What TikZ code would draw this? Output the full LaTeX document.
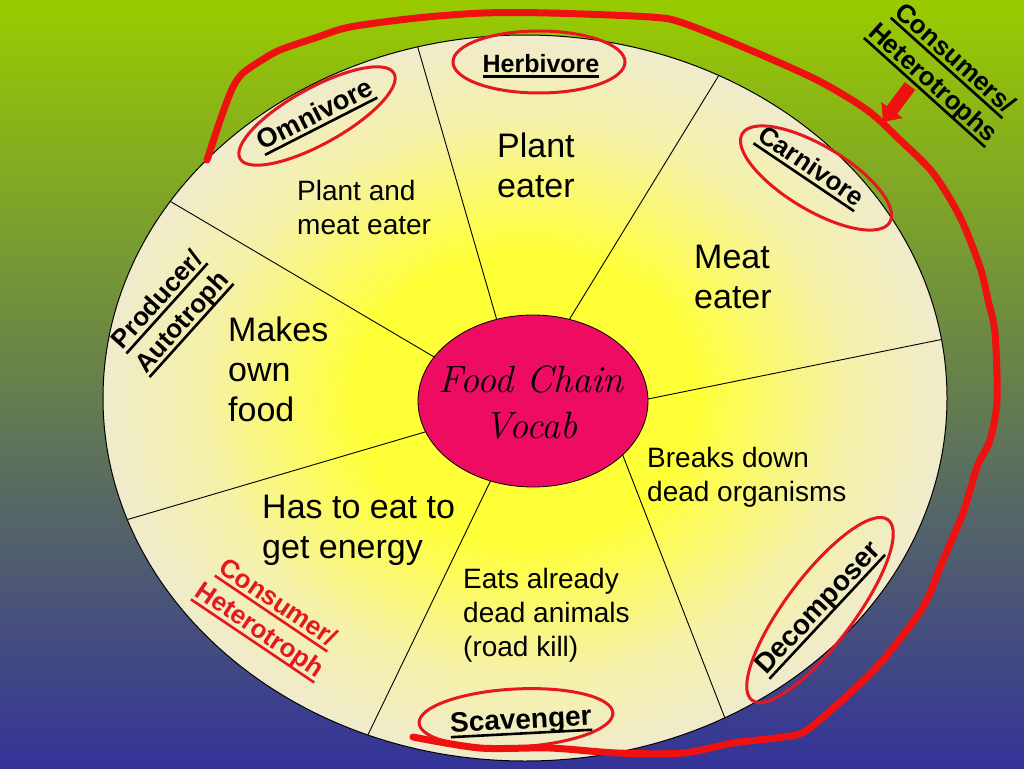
\documentclass[tikz,border=0pt]{standalone}
\usepackage{fontspec}
\setsansfont{Liberation Sans}
\usetikzlibrary{shapes.geometric,arrows.meta}
\definecolor{bgtop}{RGB}{153,204,0}
\definecolor{bgmid}{RGB}{104,140,106}
\definecolor{bgbot}{RGB}{51,51,153}
\definecolor{discyel}{RGB}{255,255,55}
\definecolor{discmid}{RGB}{245,241,168}
\definecolor{disccream}{RGB}{238,233,216}
\definecolor{corepink}{RGB}{238,12,98}
\definecolor{penred}{RGB}{240,16,16}
\definecolor{ringred}{RGB}{228,24,30}
\pgfdeclareradialshading{discshade}{\pgfpoint{0bp}{0bp}}{color(0bp)=(discyel); color(10bp)=(discyel); color(19bp)=(discmid); color(27bp)=(disccream); color(50bp)=(disccream)}
\newcommand\myul[1]{\setbox0\hbox{#1}\rlap{\rule[-6pt]{\wd0}{2.6pt}}\box0}
\begin{document}
\begin{tikzpicture}[x=1pt,y=-1pt,
  bodybig/.style={font=\sffamily\fontsize{34}{40}\selectfont, align=left, anchor=north west, inner sep=0},
  bodysmall/.style={font=\sffamily\fontsize{28}{34}\selectfont, align=left, anchor=north west, inner sep=0},
  lbl/.style={font=\sffamily\bfseries\fontsize{#1}{33}\selectfont, align=center, inner sep=0},
  lbl/.default=26,
  ring/.style={ellipse, draw=ringred, line width=3pt, inner sep=0, outer sep=0},
  spoke/.style={draw=black, line width=0.9pt}]
\fill[top color=bgtop, middle color=bgmid, bottom color=bgbot] (0,0) rectangle (1024,768);
\useasboundingbox (0,0) rectangle (1024,768);

\node[ellipse, draw=black, line width=1pt, shade, shading=discshade, minimum width=844, minimum height=726, inner sep=0, outer sep=0] (disc) at (525,398) {};
\node[ellipse, draw=black, line width=0.8pt, fill=corepink, minimum width=230, minimum height=172, inner sep=0, outer sep=0] (core) at (533,401) {};

\draw[spoke] (core.114.6) -- (disc.107.2);
\draw[spoke] (core.66) -- (disc.59.1);
\draw[spoke] (core.1.5) -- (disc.8.9);
\draw[spoke] (core.-31.8) -- (disc.-58.8);
\draw[spoke] (core.-118) -- (disc.-115.3);
\draw[spoke] (core.196.5) -- (disc.197);
\draw[spoke] (core.156.3) -- (disc.151.7);

\node[font=\rmfamily\itshape\fontsize{38}{46}\selectfont, align=center, inner sep=0] (coretext) at (531,403) {Food Chain\\Vocab};

\node[bodybig] (herbtxt) at (497,133) {Plant\\eater};
\node[bodysmall] (omnitxt) at (297,180) {Plant and\\meat eater};
\node[bodybig] (carntxt) at (694,245) {Meat\\eater};
\node[bodybig] (prodtxt) at (228,317) {Makes\\own\\food};
\node[bodybig] (constxt) at (262,495) {Has to eat to\\get energy};
\node[bodysmall] (decotxt) at (647,447) {Breaks down\\dead organisms};
\node[bodysmall] (scavtxt) at (463,568) {Eats already\\dead animals\\(road kill)};

\node[lbl=25] (herb) at (541,66) {\myul{Herbivore}};
\node[lbl=27, rotate=27] (omni) at (316,116) {\myul{Omnivore}};
\node[lbl, rotate=-34] (carn) at (810,168) {\myul{Carnivore}};
\node[lbl=28, rotate=47] (deco) at (819,609) {\myul{Decomposer}};
\node[lbl=28, rotate=3] (scav) at (521,722) {\myul{Scavenger}};
\node[lbl, rotate=48] (prod) at (171,312) {\myul{Producer/}\\\myul{Autotroph}};
\node[lbl, rotate=-34, text=ringred] (cons) at (268,618) {\myul{Consumer/}\\\myul{Heterotroph}};
\node[lbl, rotate=-42] (consall) at (943,72) {\myul{Consumers/}\\\myul{Heterotrophs}};

\node[ring, minimum width=172, minimum height=62] (herbring) at (539,62) {};
\node[ring, minimum width=176, minimum height=56, rotate=29] (omniring) at (317,116) {};
\node[ring, minimum width=172, minimum height=64, rotate=-31] (carnring) at (816,178) {};
\node[ring, minimum width=226, minimum height=68, rotate=53] (decoring) at (820,610) {};
\node[ring, minimum width=194, minimum height=58, rotate=3] (scavring) at (516,718) {};

\draw[penred, line width=7pt, line cap=round, line join=round] plot[smooth, tension=0.5] coordinates {
 (207,160) (222,115) (233,87) (243,73) (262,60) (280,50) (315,38) (350,27) (417,18) (483,13)
 (550,13) (650,17) (683,23) (750,50) (817,80) (867,110) (900,140) (933,173) (960,217) (980,267)
 (988,300) (995,333) (997,400) (990,440) (977,467) (963,513) (943,560) (923,607) (883,660)
 (850,693) (807,730) (783,737) (733,743) (683,753) (617,753) (550,748) (480,748) (413,737)};

\coordinate (arrS) at (910,86);
\coordinate (arrE) at (883,122);
\draw[penred, line width=13pt, -{Triangle[width=26pt,length=15pt]}] (arrS) -- (arrE);
\end{tikzpicture}
\end{document}
